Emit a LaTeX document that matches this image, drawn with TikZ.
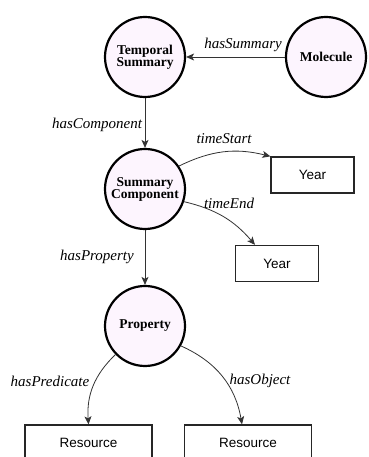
\documentclass[tikz,border=0pt]{standalone}
\usepackage{fontspec}
\setmainfont{Liberation Serif}
\setsansfont{Liberation Sans}
\usetikzlibrary{arrows.meta}

\definecolor{classfill}{RGB}{253,245,254}

\tikzset{
  cls/.style={circle, draw=black, line width=2.2pt, fill=classfill,
    minimum size=80pt, inner sep=0pt, align=center,
    font=\fontsize{13.5}{14}\selectfont\bfseries},
  lit/.style={rectangle, draw=black!85, line width=1.3pt, minimum height=36pt,
    inner sep=0pt, font=\sffamily\fontsize{13.5}{15}\selectfont},
  rel/.style={draw=black!80, line width=0.8pt, -{Stealth[length=8pt,width=7pt,inset=2pt]}},
  lbl/.style={font=\itshape\fontsize{15}{17}\selectfont, inner sep=1pt}
}

\begin{document}
\begin{tikzpicture}[x=1pt,y=1pt]
\useasboundingbox (0,0) rectangle (368,457);

% classes
\node [cls] (temporal) at (145,400) {Temporal\\[-2pt]Summary};
\node [cls] (molecule) at (326,400) {Molecule};
\node [cls] (component) at (145,268) {Summary\\[-2pt]Component};
\node [cls] (property) at (145,131) {Property};

% literals / resources
\node [lit, minimum width=83pt] (yearstart) at (312.5,282) {Year};
\node [lit, minimum width=83pt] (yearend) at (277,193.5) {Year};
\node [lit, minimum width=127pt] (predicate) at (88.5,14) {Resource};
\node [lit, minimum width=127pt] (object) at (248,14) {Resource};

% relations
\draw [rel] (molecule) -- (temporal);
\node [lbl] at (243,412) {hasSummary};

\draw [rel] (temporal) -- (component);
\node [lbl] at (97,332) {hasComponent};

\draw [rel] (component.34) to [bend left=20] (yearstart.north west);
\node [lbl] at (224,318) {timeStart};

\draw [rel] (component.-18) to [bend left=18] ([xshift=-22pt]yearend.north);
\node [lbl] at (229,254) {timeEnd};

\draw [rel] (component) -- (property);
\node [lbl] at (97,200) {hasProperty};

\draw [rel] (property.224) to [bend right=25] (predicate.north);
\node [lbl] at (50,76) {hasPredicate};

\draw [rel] (property.-29) to [bend left=28] ([xshift=-6pt]object.north);
\node [lbl] at (260,76) {hasObject};

\end{tikzpicture}
\end{document}
